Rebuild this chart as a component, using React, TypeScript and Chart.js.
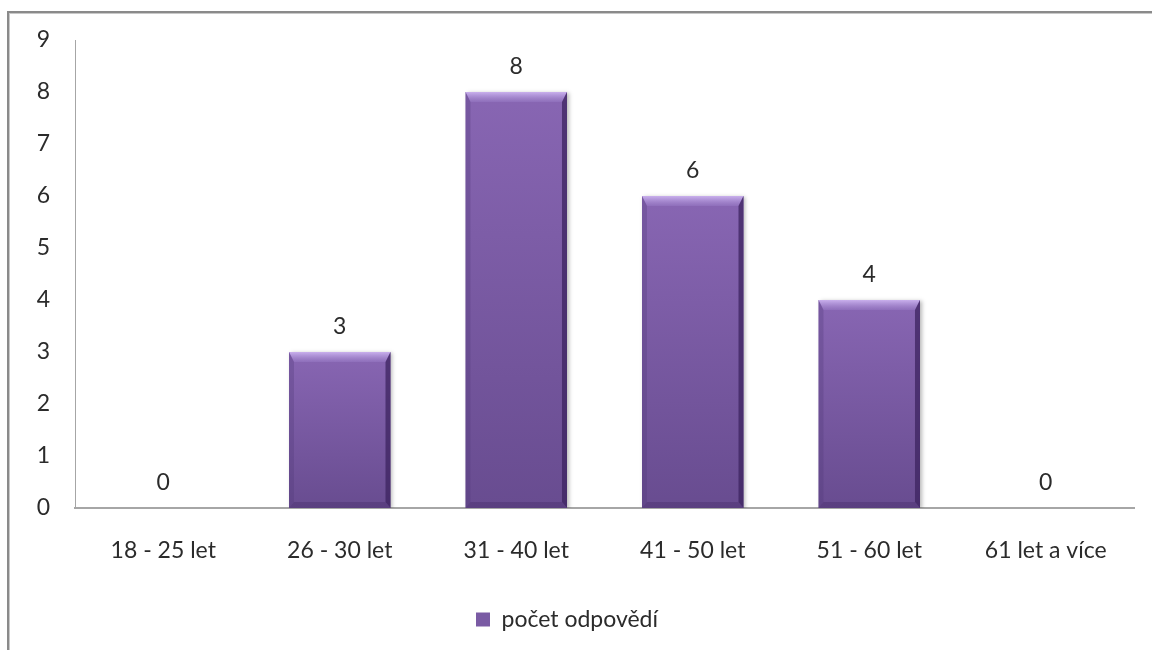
import React, { useEffect, useRef } from "react";
import { Chart, registerables } from "chart.js";

Chart.register(...registerables);

const categories = ["18 - 25 let", "26 - 30 let", "31 - 40 let", "41 - 50 let", "51 - 60 let", "61 let a více"];
const counts = [0, 3, 8, 6, 4, 0];
const seriesName = "počet odpovědí";
const yTicks = [0, 1, 2, 3, 4, 5, 6, 7, 8, 9];

const FONT = "Lato, 'Open Sans', sans-serif";
const TEXT = "#2b2b2b";
const FS = 23;

const bevelPlugin = {
  id: "bevel",
  beforeDatasetsDraw(chart: any) {
    const ctx = chart.ctx;
    ctx.save();
    ctx.shadowColor = "rgba(0,0,0,0.28)";
    ctx.shadowBlur = 4;
    ctx.shadowOffsetX = 2;
    ctx.shadowOffsetY = 1;
  },
  afterDatasetsDraw(chart: any) {
    const ctx = chart.ctx;
    ctx.restore();
    const meta = chart.getDatasetMeta(0);
    meta.data.forEach((el: any, i: number) => {
      const v = counts[i];
      const left = el.x - el.width / 2;
      const right = el.x + el.width / 2;
      const top = el.y;
      const bottom = el.base;
      if (v > 0) {
        const t = 10, s = 5, b = 6;
        ctx.save();
        let g = ctx.createLinearGradient(0, top, 0, top + t);
        g.addColorStop(0, "rgba(205,180,240,0.95)");
        g.addColorStop(1, "rgba(150,120,195,0.55)");
        ctx.fillStyle = g;
        ctx.beginPath();
        ctx.moveTo(left, top);
        ctx.lineTo(right, top);
        ctx.lineTo(right - s, top + t);
        ctx.lineTo(left + s, top + t);
        ctx.closePath();
        ctx.fill();
        ctx.fillStyle = "rgba(60,35,95,0.75)";
        ctx.beginPath();
        ctx.moveTo(right, top);
        ctx.lineTo(right, bottom);
        ctx.lineTo(right - s, bottom - b);
        ctx.lineTo(right - s, top + t);
        ctx.closePath();
        ctx.fill();
        ctx.fillStyle = "rgba(80,55,120,0.3)";
        ctx.beginPath();
        ctx.moveTo(left, top);
        ctx.lineTo(left, bottom);
        ctx.lineTo(left + s, bottom - b);
        ctx.lineTo(left + s, top + t);
        ctx.closePath();
        ctx.fill();
        ctx.fillStyle = "rgba(70,45,105,0.4)";
        ctx.beginPath();
        ctx.moveTo(left, bottom);
        ctx.lineTo(right, bottom);
        ctx.lineTo(right - s, bottom - b);
        ctx.lineTo(left + s, bottom - b);
        ctx.closePath();
        ctx.fill();
        ctx.restore();
      }
      ctx.save();
      ctx.fillStyle = TEXT;
      ctx.font = `${FS}px ${FONT}`;
      ctx.textAlign = "center";
      ctx.textBaseline = "middle";
      ctx.fillText(String(v), el.x, top - 25);
      ctx.restore();
    });
  },
};

export default function App() {
  const ref = useRef<HTMLCanvasElement>(null);
  useEffect(() => {
    if (!ref.current) return;
    const chart = new Chart(ref.current, {
      type: "bar",
      data: {
        labels: categories,
        datasets: [
          {
            label: seriesName,
            data: counts,
            backgroundColor: (c: any) => {
              const ch = c.chart;
              const ys = ch.scales && ch.scales.y;
              const v = c.raw;
              if (!ys || !v) return "#7a5ba4";
              const top = ys.getPixelForValue(v);
              const base = ys.getPixelForValue(0);
              if (!isFinite(top) || !isFinite(base) || base - top < 1) return "#7a5ba4";
              const g = ch.ctx.createLinearGradient(0, top, 0, base);
              g.addColorStop(0, "#8866b3");
              g.addColorStop(1, "#684c90");
              return g;
            },
            borderWidth: 0,
            categoryPercentage: 1,
            barPercentage: 0.575,
          },
        ],
      },
      options: {
        animation: false,
        responsive: false,
        layout: { padding: { left: 0, top: 40, right: 18, bottom: 9 } },
        plugins: {
          legend: {
            position: "bottom",
            labels: {
              boxWidth: 14,
              boxHeight: 14,
              padding: 10,
              color: TEXT,
              font: { family: FONT, size: FS },
            },
          },
          tooltip: { enabled: false },
        },
        scales: {
          x: {
            grid: { display: false },
            border: { display: true, color: "#a6a6a6", width: 2 },
            ticks: { color: TEXT, font: { family: FONT, size: FS }, padding: 21, maxRotation: 0 },
            afterFit: (s: any) => {
              s.height = 90;
            },
          },
          y: {
            min: 0,
            max: 9,
            grid: { display: false },
            border: { display: true, color: "#a6a6a6", width: 1 },
            afterBuildTicks: (s: any) => {
              s.ticks = yTicks.map((v) => ({ value: v }));
            },
            ticks: { color: TEXT, font: { family: FONT, size: FS }, padding: 17 },
            afterFit: (s: any) => {
              s.width = 75;
            },
          },
        },
      },
      plugins: [bevelPlugin],
    });
    return () => chart.destroy();
  }, []);

  return (
    <div style={{ position: "fixed", left: 0, top: 0, width: 1152, height: 650, background: "#fff", overflow: "hidden" }}>
      <div
        style={{
          position: "absolute",
          left: 7,
          top: 11,
          width: 1170,
          height: 670,
          borderLeft: "2px solid #8a8a8a",
          borderTop: "2px solid #8a8a8a",
          boxShadow: "inset 1px 1px 0 #c8c8c8",
        }}
      />
      <canvas ref={ref} width={1152} height={650} style={{ position: "absolute", left: 0, top: 0 }} />
    </div>
  );
}
